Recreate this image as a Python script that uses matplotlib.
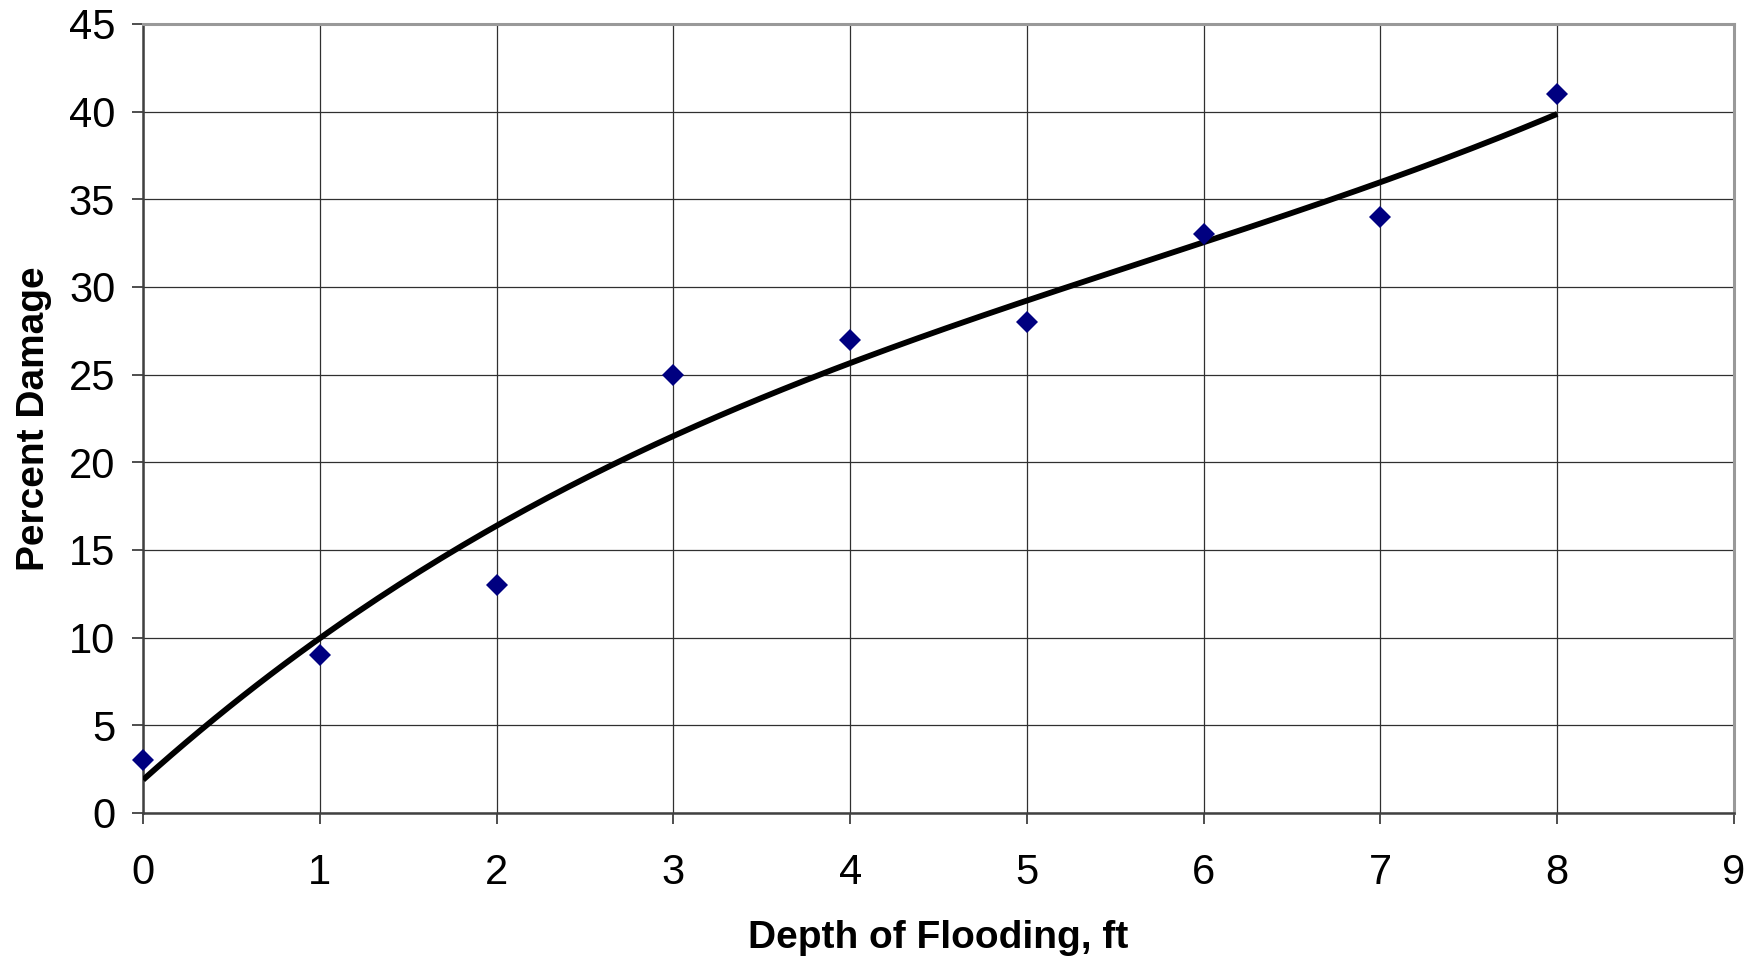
import matplotlib.pyplot as plt
import numpy as np

plt.rcParams['font.family'] = ['Liberation Sans', 'DejaVu Sans']

depth_ft = [0, 1, 2, 3, 4, 5, 6, 7, 8]
percent_damage = [3, 9, 13, 25, 27, 28, 33, 34, 41]

x_ticks = list(range(0, 10))
y_ticks = list(range(0, 50, 5))

# trendline: 3rd order polynomial fitted to the points
coef = np.polyfit(depth_ft, percent_damage, 3)
xs = np.linspace(min(depth_ft), max(depth_ft), 200)
ys = np.polyval(coef, xs)

fig = plt.figure(figsize=(17.49, 9.58), dpi=100)
ax = fig.add_axes([0.0818, 0.1514, 0.9096, 0.8236])

ax.grid(True, color='#303030', linewidth=0.9)
ax.set_axisbelow(True)
ax.plot(xs, ys, color='black', linewidth=4.2, solid_capstyle='butt', zorder=3)
ax.plot(depth_ft, percent_damage, linestyle='none', marker='D', markersize=11,
        color='#000080', markeredgewidth=0, zorder=4, clip_on=False)

ax.set_xlim(0, 9)
ax.set_ylim(0, 45)
ax.set_xticks(x_ticks)
ax.set_yticks(y_ticks)
ax.tick_params(labelsize=30, length=8, width=1.2, color='#303030', pad=12)
ax.tick_params(axis='x', pad=21)

for side in ['left', 'bottom']:
    ax.spines[side].set_color('#404040')
    ax.spines[side].set_linewidth(1.8)
for side in ['top', 'right']:
    ax.spines[side].set_color('#999999')
    ax.spines[side].set_linewidth(2.2)

ax.set_xlabel('Depth of Flooding, ft', fontsize=28, fontweight='bold', labelpad=19)
ax.set_ylabel('Percent Damage', fontsize=28, fontweight='bold', labelpad=12)

fig.savefig('out.png', dpi=100)
